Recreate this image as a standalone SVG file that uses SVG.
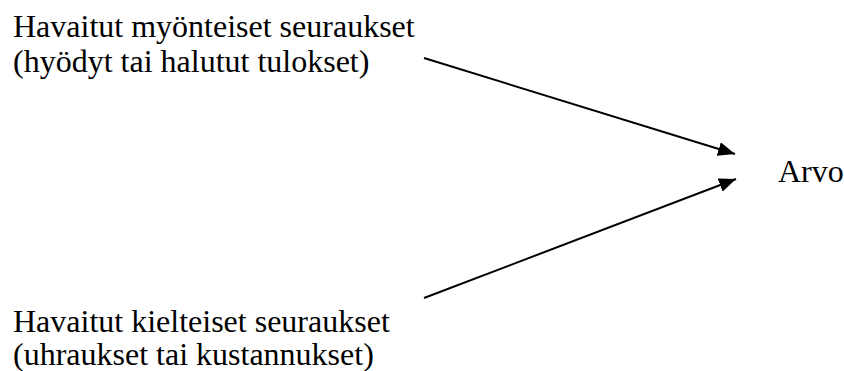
<svg xmlns="http://www.w3.org/2000/svg" width="844" height="371" viewBox="0 0 844 371">
<style>
.t{font-family:'Liberation Serif','Times New Roman',serif;font-size:32px;fill:#000}
.c{stroke:#000;stroke-width:2;fill:none}
</style>
<defs>
<marker id="ah" markerUnits="userSpaceOnUse" markerWidth="18" markerHeight="14" refX="17" refY="7" orient="auto">
<path d="M0,0 L17,7 L0,14 Z" fill="#000"/>
</marker>
</defs>
<rect width="844" height="371" fill="#fff"/>
<g id="pos" class="t">
<text x="13" y="37">Havaitut myönteiset seuraukset</text>
<text x="13" y="72">(hyödyt tai halutut tulokset)</text>
</g>
<g id="neg" class="t">
<text x="13" y="332">Havaitut kielteiset seuraukset</text>
<text x="13" y="365">(uhraukset tai kustannukset)</text>
</g>
<g id="arvo" class="t">
<text x="778" y="182">Arvo</text>
</g>
<g id="connectors">
<line class="c" x1="424" y1="58" x2="735" y2="154" marker-end="url(#ah)"/>
<line class="c" x1="424" y1="298" x2="736" y2="179" marker-end="url(#ah)"/>
</g>
</svg>
